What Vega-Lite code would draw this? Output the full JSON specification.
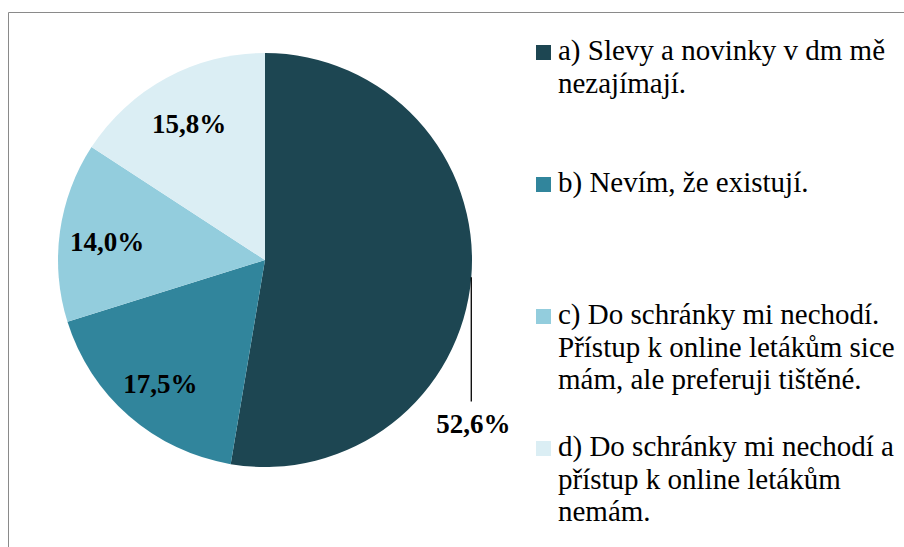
{
  "$schema": "https://vega.github.io/schema/vega-lite/v6.json",
  "width": 896,
  "height": 535,
  "autosize": {"type": "none"},
  "padding": {"left": 8, "top": 12, "right": 0, "bottom": 0},
  "background": "white",
  "config": {"view": {"stroke": "#8a8a8a", "strokeWidth": 1}},
  "data": {
    "values": [
      {"kategorie": "a) Slevy a novinky v dm mě\nnezajímají.", "podil": 52.6},
      {"kategorie": "b) Nevím, že existují.", "podil": 17.5},
      {"kategorie": "c) Do schránky mi nechodí.\nPřístup k online letákům sice\nmám, ale preferuji tištěné.", "podil": 14.0},
      {"kategorie": "d) Do schránky mi nechodí a\npřístup k online letákům\nnemám.", "podil": 15.8}
    ]
  },
  "transform": [
    {"joinaggregate": [{"op": "sum", "field": "podil", "as": "celkem"}]},
    {"window": [{"op": "sum", "field": "podil", "as": "kum"}], "sort": [{"field": "kategorie", "order": "ascending"}], "frame": [null, 0]},
    {"calculate": "2*PI*(datum.kum - datum.podil/2)/datum.celkem", "as": "stred"},
    {"calculate": "replace(format(datum.podil, '.1f'), '.', ',') + '%'", "as": "popisek"}
  ],
  "layer": [
    {
      "mark": {"type": "arc", "outerRadius": 207, "strokeWidth": 0},
      "encoding": {
        "theta": {"field": "podil", "type": "quantitative", "stack": true},
        "color": {
          "field": "kategorie",
          "type": "nominal",
          "sort": "ascending",
          "scale": {"range": ["#1d4652", "#31859c", "#93cddd", "#dbeef4"]},
          "legend": {
            "title": null,
            "orient": "none",
            "legendX": 521,
            "legendY": 26,
            "symbolType": "square",
            "symbolSize": 225,
            "symbolStrokeWidth": 0,
            "symbolOpacity": 1,
            "labelFont": "Liberation Serif",
            "labelFontSize": 29,
            "labelColor": "black",
            "labelLimit": 400,
            "labelOffset": 0,
            "gridAlign": "all",
            "rowPadding": 38,
            "labelBaseline": "alphabetic",
            "labelExpr": "split(datum.label, '\\n')",
            "encode": {"labels": {"update": {"dy": {"value": 7.5}, "lineHeight": {"value": 32.5}}}}
          }
        },
        "x": {"datum": 0, "type": "quantitative", "scale": {"domain": [-1.24155, 3.08696], "nice": false, "zero": false}, "axis": null},
        "y": {"datum": 0, "type": "quantitative", "scale": {"domain": [-1.38647, 1.19807], "nice": false, "zero": false}, "axis": null}
      }
    },
    {
      "transform": [
        {"filter": "datum.podil < 50"},
        {"calculate": "0.77*sin(datum.stred)", "as": "px"},
        {"calculate": "0.77*cos(datum.stred) - 0.025", "as": "py"}
      ],
      "mark": {"type": "text", "font": "Liberation Serif", "fontSize": 27, "fontWeight": "bold", "color": "black", "align": "center", "baseline": "middle"},
      "encoding": {
        "x": {"field": "px", "type": "quantitative", "axis": null},
        "y": {"field": "py", "type": "quantitative", "axis": null},
        "text": {"field": "popisek", "type": "nominal"}
      }
    },
    {
      "transform": [
        {"filter": "datum.podil >= 50"},
        {"calculate": "sin(datum.stred)", "as": "lx"},
        {"calculate": "cos(datum.stred)", "as": "ly"},
        {"calculate": "cos(datum.stred) - 0.6", "as": "ly2"}
      ],
      "mark": {"type": "rule", "color": "black", "strokeWidth": 1.3},
      "encoding": {
        "x": {"field": "lx", "type": "quantitative", "axis": null},
        "y": {"field": "ly", "type": "quantitative", "axis": null},
        "y2": {"field": "ly2"}
      }
    },
    {
      "transform": [
        {"filter": "datum.podil >= 50"},
        {"calculate": "sin(datum.stred)", "as": "tx"},
        {"calculate": "cos(datum.stred) - 0.715", "as": "ty"}
      ],
      "mark": {"type": "text", "font": "Liberation Serif", "fontSize": 27, "fontWeight": "bold", "color": "black", "align": "center", "baseline": "middle", "dx": 2},
      "encoding": {
        "x": {"field": "tx", "type": "quantitative", "axis": null},
        "y": {"field": "ty", "type": "quantitative", "axis": null},
        "text": {"field": "popisek", "type": "nominal"}
      }
    }
  ]
}
